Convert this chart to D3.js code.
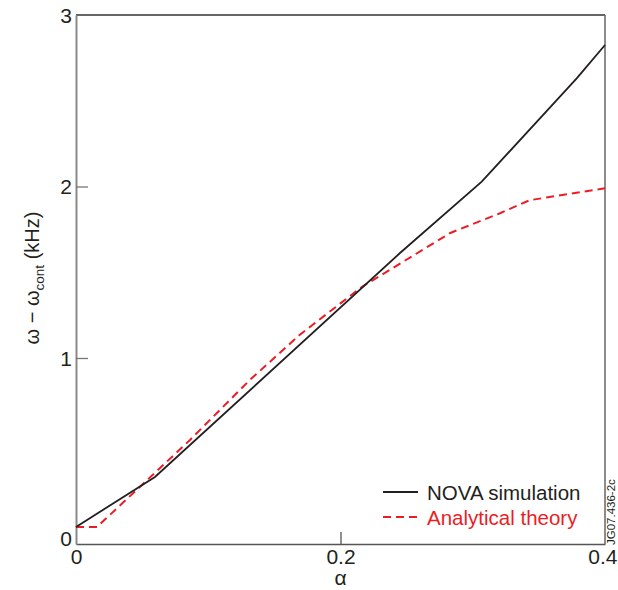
<!DOCTYPE html>
<html>
<head>
<meta charset="utf-8">
<script src="https://cdn.jsdelivr.net/npm/d3@7"></script>
<style>
  html, body { margin: 0; padding: 0; background: #fff; }
  svg { display: block; font-family: "Liberation Sans", Arial, Helvetica, sans-serif; }
</style>
</head>
<body>
<svg id="chart" width="618" height="590"></svg>
<script>
// ---- data ----
const novaAlpha = [0, 0.0597, 0.245, 0.3068, 0.3786, 0.4];
const novaValue = [0.015, 0.306, 1.612, 2.028, 2.631, 2.825];

const theoryAlpha = [0, 0.0159, 0.0862, 0.1312, 0.169, 0.216, 0.283, 0.3206, 0.343, 0.4];
const theoryValue = [0.015, 0.015, 0.522, 0.87, 1.134, 1.414, 1.729, 1.844, 1.92, 1.99];

const xTicks = [0, 0.2, 0.4];
const xTickLabels = ["0", "0.2", "0.4"];
const yTicks = [0, 1, 2, 3];
const yTickLabels = ["0", "1", "2", "3"];

const seriesNames = ["NOVA simulation", "Analytical theory"];
const seriesColors = ["#231f20", "#ec1c24"];

// ---- layout ----
const svg = d3.select("#chart");
const mLeft = 76, mRight = 605, mTop = 15, mBottom = 544;

const x = d3.scaleLinear().domain([0, 0.4]).range([mLeft, mRight]);
const y = d3.scaleLinear().domain([-0.0846, 3]).range([mBottom, mTop]);

// frame: top and right
svg.append("line").attr("x1", mLeft).attr("x2", mRight).attr("y1", mTop).attr("y2", mTop)
  .attr("stroke", "#333").attr("stroke-width", 1.5);
svg.append("line").attr("x1", mRight).attr("x2", mRight).attr("y1", mTop).attr("y2", mBottom)
  .attr("stroke", "#666").attr("stroke-width", 1.5);

// x axis
const xAxis = svg.append("g").attr("transform", `translate(0,${mBottom})`)
  .call(d3.axisBottom(x).tickValues(xTicks).tickFormat((d, i) => xTickLabels[i])
    .tickSizeInner(-12).tickSizeOuter(0).tickPadding(5));
xAxis.select(".domain").attr("stroke", "#555").attr("stroke-width", 1.5);
xAxis.selectAll(".tick line").attr("stroke", "#555").attr("stroke-width", 1.3)
  .attr("display", d => (d === 0.2 ? null : "none"));
xAxis.selectAll(".tick text").attr("font-size", 21).attr("fill", "#231f20")
  .attr("font-family", "Liberation Sans, Arial, sans-serif")
  .attr("text-anchor", d => (d === 0.4 ? "end" : "middle"))
  .attr("dx", d => (d === 0.4 ? 12 : 0));

// y axis
const yAxis = svg.append("g").attr("transform", `translate(${mLeft},0)`)
  .call(d3.axisLeft(y).tickValues(yTicks).tickFormat((d, i) => yTickLabels[i])
    .tickSizeInner(-12).tickSizeOuter(0).tickPadding(4));
yAxis.select(".domain").attr("stroke", "#8a8a8a").attr("stroke-width", 2);
yAxis.selectAll(".tick line").attr("stroke", "#777").attr("stroke-width", 1.3)
  .attr("display", d => (d === 1 || d === 2 ? null : "none"));
yAxis.selectAll(".tick text").attr("font-size", 21).attr("fill", "#231f20")
  .attr("font-family", "Liberation Sans, Arial, sans-serif")
  .attr("dy", d => (d === 0 ? "0.75em" : "0.34em"));

// axis titles
svg.append("text").attr("x", (mLeft + mRight) / 2).attr("y", 585)
  .attr("text-anchor", "middle").attr("font-size", 21).attr("fill", "#231f20")
  .text("α");

const yt = svg.append("text").attr("transform", "translate(39,278) rotate(-90)")
  .attr("text-anchor", "middle").attr("font-size", 20).attr("fill", "#231f20");
yt.append("tspan").text("ω − ω");
yt.append("tspan").attr("font-size", 13.5).attr("dy", 5).text("cont");
yt.append("tspan").attr("dy", -5).text(" (kHz)");

// lines
const line = d3.line().x(d => x(d[0])).y(d => y(d[1]));
const novaData = novaAlpha.map((a, i) => [a, novaValue[i]]);
const theoryData = theoryAlpha.map((a, i) => [a, theoryValue[i]]);

svg.append("path").datum(theoryData).attr("d", line)
  .attr("fill", "none").attr("stroke", seriesColors[1]).attr("stroke-width", 2)
  .attr("stroke-dasharray", "8,5");
svg.append("path").datum(novaData).attr("d", line)
  .attr("fill", "none").attr("stroke", seriesColors[0]).attr("stroke-width", 1.8);

// legend
const legY = [492, 517];
seriesNames.forEach((name, i) => {
  svg.append("line").attr("x1", 383).attr("x2", 418).attr("y1", legY[i]).attr("y2", legY[i])
    .attr("stroke", seriesColors[i]).attr("stroke-width", i === 0 ? 1.8 : 2)
    .attr("stroke-dasharray", i === 1 ? "8,5" : null);
  svg.append("text").attr("x", 427).attr("y", legY[i] + 8)
    .attr("font-size", 20.5).attr("fill", seriesColors[i]).text(name);
});

// figure id
svg.append("text").attr("transform", "translate(615,545) rotate(-90)")
  .attr("font-size", 11.5).attr("fill", "#231f20").text("JG07.436-2c");
</script>
</body>
</html>
